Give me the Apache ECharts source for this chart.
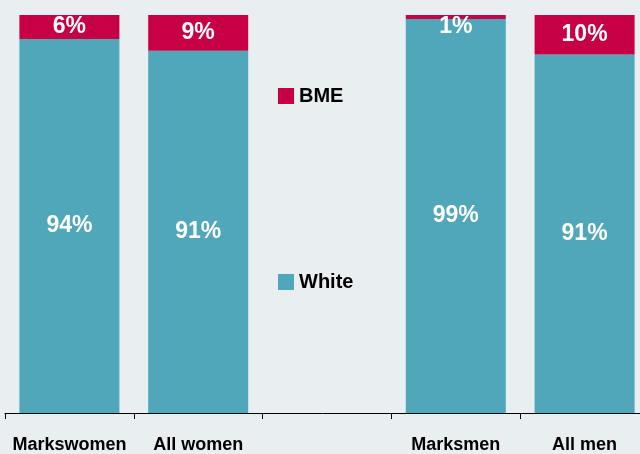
<!DOCTYPE html>
<html><head><meta charset="utf-8">
<script src="https://cdn.jsdelivr.net/npm/echarts@6/dist/echarts.min.js"></script>
<style>html,body{margin:0;padding:0;background:#e9eef1}#c{width:640px;height:454px}</style>
</head><body><div id="c"></div>
<script>
var categories = ['Markswomen', 'All women', '', 'Marksmen', 'All men'];
var whiteValues = [94, 91, null, 99, 91];
var bmeValues = [6, 9, null, 1, 10];

function share(a, b, i) {
  if (a[i] == null) return null;
  return a[i] / (a[i] + b[i]) * 100;
}
var whiteData = whiteValues.map(function (v, i) {
  return v == null ? null : { value: share(whiteValues, bmeValues, i), raw: v };
});
var bmeData = bmeValues.map(function (v, i) {
  if (v == null) return null;
  var d = { value: share(bmeValues, whiteValues, i), raw: v };
  if (v < 3) d.label = { position: 'insideTop', distance: 0 };
  return d;
});

var FONT = '"Liberation Sans", Arial, sans-serif';
var lbl = {
  show: true, position: 'inside', color: '#fff', fontWeight: 'bold', fontSize: 23,
  fontFamily: FONT,
  formatter: function (p) { return p.data.raw + '%'; }
};

var chart = echarts.init(document.getElementById('c'));
chart.setOption({
  backgroundColor: '#e9eef1',
  animation: false,
  grid: { left: 5, width: 644, top: 15, bottom: 41, containLabel: false, outerBoundsMode: 'none' },
  legend: {
    data: ['BME', 'White'], orient: 'vertical', left: 273, top: 81,
    itemWidth: 16, itemHeight: 16, itemGap: 166, icon: 'rect',
    textStyle: { fontSize: 20, fontWeight: 'bold', color: '#000', fontFamily: FONT }
  },
  xAxis: {
    type: 'category', data: categories,
    axisLine: { lineStyle: { color: '#000', width: 1 } },
    axisTick: { show: true, length: 6, lineStyle: { color: '#000' } },
    axisLabel: { color: '#000', fontWeight: 'bold', fontSize: 18, margin: 23, fontFamily: FONT, interval: 0 }
  },
  yAxis: { type: 'value', min: 0, max: 100, show: false, splitLine: { show: false } },
  series: [
    { name: 'White', type: 'bar', stack: 's', barWidth: 100, data: whiteData,
      itemStyle: { color: '#4fa7b9' }, label: lbl },
    { name: 'BME', type: 'bar', stack: 's', barWidth: 100, data: bmeData,
      itemStyle: { color: '#c70046' }, label: lbl }
  ]
});
</script></body></html>
